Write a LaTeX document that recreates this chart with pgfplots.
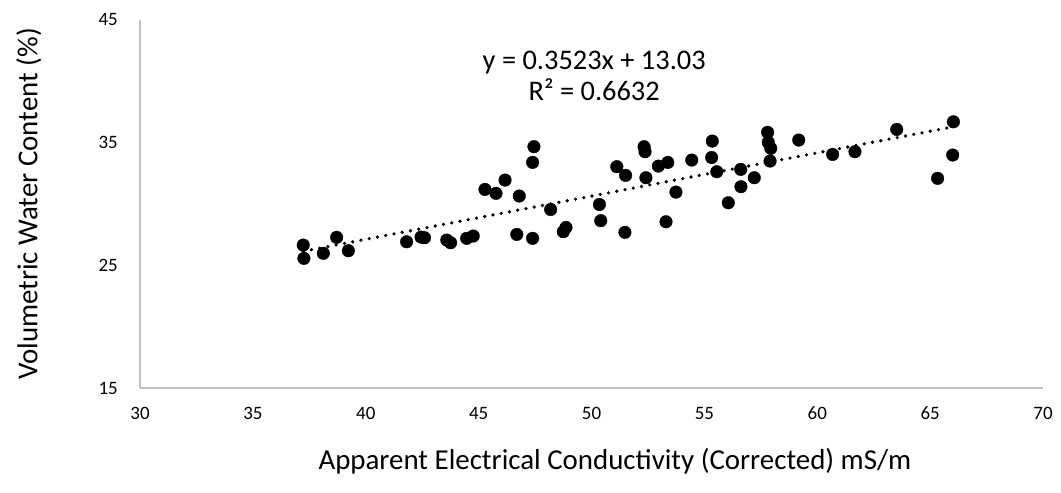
\documentclass[border=0pt]{standalone}
\usepackage{pgfplots}
\pgfplotsset{compat=1.18}
\usepackage{fontspec}
\setmainfont{Carlito}

% measured water content against corrected ECa
\pgfplotstableread{
x y
37.23 26.65
37.26 25.57
38.12 25.98
38.71 27.28
39.23 26.19
41.81 26.92
42.45 27.30
42.60 27.25
43.59 27.06
43.76 26.84
44.47 27.20
44.76 27.39
45.28 31.19
45.77 30.87
46.17 31.95
46.80 30.65
46.69 27.52
47.39 27.20
47.39 33.39
47.45 34.67
48.19 29.55
48.75 27.74
48.87 28.09
50.35 29.96
50.41 28.64
51.12 33.04
51.51 32.33
51.48 27.69
52.33 34.67
52.37 34.26
52.41 32.14
52.96 33.09
53.38 33.39
53.74 30.97
53.30 28.55
54.44 33.58
55.35 35.13
55.32 33.79
55.55 32.63
56.06 30.10
56.61 32.82
56.62 31.41
57.21 32.14
57.80 35.84
57.83 35.03
57.94 34.54
57.91 33.50
59.18 35.21
60.68 34.04
61.67 34.26
63.52 36.08
66.03 36.70
66.00 33.99
65.33 32.09
}\vwcdata

\begin{document}
\begin{tikzpicture}[x=1bp,y=1bp]
\useasboundingbox (0,0) rectangle (1061,493);
\begin{axis}[
  at={(140bp,105bp)}, anchor=south west,
  scale only axis, width=903bp, height=368bp,
  xmin=30, xmax=70, ymin=15, ymax=45,
  xtick={30,35,...,70}, ytick={15,25,35,45},
  axis lines=left,
  axis line style={-, draw=black!25, line width=1.5bp},
  major tick length=0pt,
  tick style={draw=none},
  /pgf/number format/assume math mode=true,
  ticklabel style={font=\fontsize{19}{22}\selectfont, inner sep=0pt},
  xticklabel style={anchor=base, yshift=-32bp},
  yticklabel style={anchor=east, xshift=-22bp},
  xlabel={Apparent Electrical Conductivity (Corrected) mS/m},
  ylabel={Volumetric Water Content (\%)},
  label style={font=\fontsize{29}{33}\selectfont},
  xlabel style={at={(axis description cs:0.526,-0.2)}, anchor=center},
  ylabel style={at={(axis description cs:-0.123,0.5)}, anchor=center},
  clip=false,
]
\addplot[only marks, mark=*, mark size=6.3bp, mark options={fill=black, draw=black}]
  table[x=x, y=y] {\vwcdata};
% linear trend y = 0.3523x + 13.03 over the data range
\addplot[black, line width=3.6bp, line cap=round, dash pattern=on 0bp off 8.4bp]
  coordinates {(37.23,26.146) (66.03,36.292)};
\node[align=center, font=\fontsize{28.5}{31.3}\selectfont]
  at (axis description cs:0.503,0.847) {y = 0.3523x + 13.03\\R² = 0.6632};
\end{axis}
\end{tikzpicture}
\end{document}
